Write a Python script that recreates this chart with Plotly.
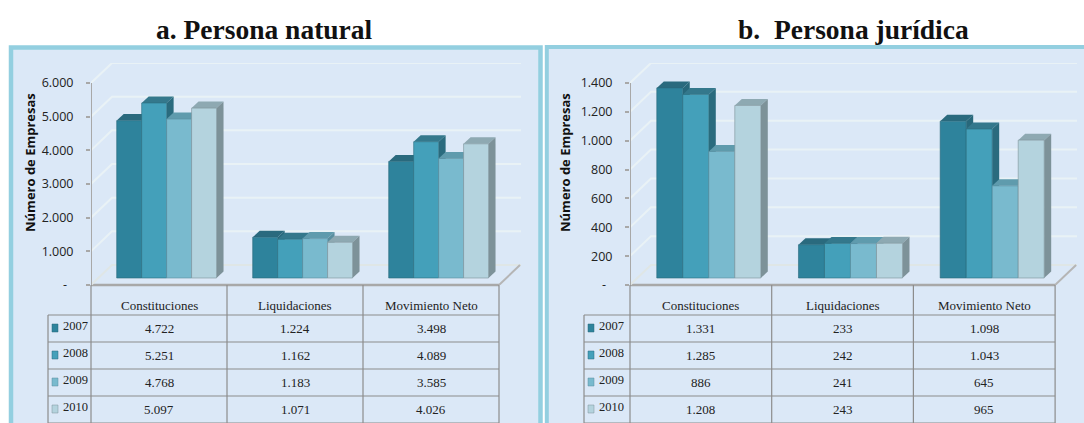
import plotly.graph_objects as go

W, H = 1084, 423
categories = ["Constituciones", "Liquidaciones", "Movimiento Neto"]
years = ["2007", "2008", "2009", "2010"]

natural_2007 = [4722, 1224, 3498]
natural_2008 = [5251, 1162, 4089]
natural_2009 = [4768, 1183, 3585]
natural_2010 = [5097, 1071, 4026]
juridica_2007 = [1331, 233, 1098]
juridica_2008 = [1285, 242, 1043]
juridica_2009 = [886, 241, 645]
juridica_2010 = [1208, 243, 965]

natural_ticks = [0, 1000, 2000, 3000, 4000, 5000, 6000]
juridica_ticks = [0, 200, 400, 600, 800, 1000, 1200, 1400]

front = ["#2e839c", "#44a0ba", "#79bace", "#b4d3de"]
top = ["#2a6a7e", "#34788c", "#5f9bad", "#8ea9b2"]
side = ["#28687b", "#2a6b7e", "#5a8f9f", "#7d9299"]
BORDER = "#93cfe0"
BG = "#dbe8f7"
GRID = "#e9f2f6"
AX = "#a8a8a8"
TBL = "#8c8c8c"
SANS = "Open Sans"
SERIF = "Liberation Serif"
DEPTH_SCALE = 0.99   # bars stand further back than the axis plane

fig = go.Figure()
shapes, annotations = [], []
px = lambda x: x / W
py = lambda y: 1 - y / H


def rect(x0, y0, x1, y1, fill=None, line=None, lw=0):
    shapes.append(dict(type="rect", xref="paper", yref="paper", x0=px(x0), x1=px(x1),
                       y0=py(y1), y1=py(y0), fillcolor=fill or "rgba(0,0,0,0)",
                       line=dict(color=line or "rgba(0,0,0,0)", width=lw), layer="below"))


def seg(x0, y0, x1, y1, color=TBL, lw=1.2):
    shapes.append(dict(type="line", xref="paper", yref="paper", x0=px(x0), x1=px(x1),
                       y0=py(y0), y1=py(y1), line=dict(color=color, width=lw), layer="below"))


def note(x, y, text, size=12, font=SERIF, color="#222222", anchor="center", angle=0, bold=False):
    annotations.append(dict(xref="paper", yref="paper", x=px(x), y=py(y), text=f"<b>{text}</b>" if bold else text,
                            showarrow=False, xanchor=anchor, yanchor="middle", textangle=angle,
                            font=dict(family=font, size=size, color=color)))


def dotted(v):
    return f"{v:,}".replace(",", ".")


def panel(series, ticks, ax_x, cell, legend_x, ids, title_x, ylabel_x, title):
    base_id, poly_id, bar_id = ids
    zero_y, max_y, back_y, dx_wall, dy_wall = 285, 83, 63, 21, 20
    unit = (zero_y - max_y) / ticks[-1]          # px per value, axis plane
    bar_unit = unit * DEPTH_SCALE                # px per value, bar plane
    right_px = ax_x + 3 * cell + dx_wall + 1
    x_end = -0.5 + (right_px - ax_x) / cell
    y_end = (zero_y - back_y) / unit
    xa = dict(domain=[px(ax_x), px(right_px)], range=[-0.5, x_end], visible=False, fixedrange=True)
    ya = dict(domain=[py(zero_y), py(back_y)], range=[0, y_end], fixedrange=True,
              tickvals=ticks, ticktext=["-\u00a0\u00a0" if t == 0 else dotted(t) for t in ticks],
              ticks="outside", ticklen=4, tickcolor=AX, tickwidth=1.5, showgrid=False, zeroline=False,
              showline=False, ticklabelstandoff=10, tickfont=dict(family=SANS, size=12.5, color="#222222"))
    xn, yn = ("x", "y") if base_id == 1 else (f"x{base_id}", f"y{base_id}")
    xp, yp = f"x{poly_id}", f"y{poly_id}"
    xo, yo = f"x{bar_id}", f"y{bar_id}"
    bar_range = [0, (zero_y - back_y) / bar_unit]
    layout_axes = {
        f"xaxis{'' if base_id == 1 else base_id}": dict(xa, anchor=yn),
        f"yaxis{'' if base_id == 1 else base_id}": dict(ya, anchor=xn),
    }
    for aid, xx, yy in ((poly_id, xp, yp), (bar_id, xo, yo)):
        layout_axes[f"xaxis{aid}"] = dict(xa, anchor=yy, overlaying=xn)
        layout_axes[f"yaxis{aid}"] = dict(domain=ya["domain"], range=bar_range, visible=False, fixedrange=True,
                                          anchor=xx, overlaying=yn)
    fig.update_layout(**layout_axes)

    wx = dx_wall / cell
    wy = dy_wall / unit
    # back wall and left wall grid
    for t in ticks:
        col = "#dfe6e6" if t == 0 else GRID
        fig.add_scatter(x=[-0.5, -0.5 + wx, x_end], y=[t, t + wy, t + wy], mode="lines", xaxis=xn, yaxis=yn,
                        line=dict(color=col, width=2), hoverinfo="skip", showlegend=False)
    # floor edge on the right and the axis
    fig.add_scatter(x=[2.5, 2.5 + wx], y=[0, wy], mode="lines", xaxis=xn, yaxis=yn,
                    line=dict(color="#b5b5b5", width=2), hoverinfo="skip", showlegend=False)
    fig.add_scatter(x=[-0.5, -0.5], y=[0, ticks[-1]], mode="lines", xaxis=xn, yaxis=yn,
                    line=dict(color=AX, width=2), hoverinfo="skip", showlegend=False)

    off0, bw = -0.311, 0.1835
    base = 7 / bar_unit
    ddx, ddy = 7 / cell, 6.5 / bar_unit
    for i, vals in enumerate(series):
        for c, v in enumerate(vals):
            l = c + off0 + i * bw
            r = l + bw
            t = base + v
            fig.add_scatter(x=[l, r, r + ddx, l + ddx, l], y=[t, t, t + ddy, t + ddy, t], mode="lines",
                            fill="toself", fillcolor=top[i], line=dict(width=0, color=top[i]),
                            xaxis=xp, yaxis=yp, hoverinfo="skip", showlegend=False)
            fig.add_scatter(x=[r, r + ddx, r + ddx, r, r], y=[base, base + ddy, t + ddy, t, base], mode="lines",
                            fill="toself", fillcolor=side[i], line=dict(width=0, color=side[i]),
                            xaxis=xp, yaxis=yp, hoverinfo="skip", showlegend=False)
    for i, vals in enumerate(series):
        fig.add_bar(x=[0, 1, 2], y=vals, base=base, width=bw, offset=[off0 + i * bw] * 3, name=years[i],
                    marker=dict(color=front[i], line=dict(color=side[i], width=0.6)),
                    xaxis=xo, yaxis=yo, showlegend=False)

    # table
    rows = [315, 342, 369, 396, 423]
    seg(ax_x, 285, ax_x + 3 * cell, 285, AX, 2.5)
    for k in range(4):
        seg(ax_x + k * cell, 285, ax_x + k * cell, 423)
    seg(legend_x, 315, legend_x, 423)
    for y in rows:
        seg(legend_x, y, ax_x + 3 * cell, y)
    for c, name in enumerate(categories):
        note(ax_x + (c + .5) * cell, 305, name, 13)
    for i, vals in enumerate(series):
        yc = (rows[i] + rows[i + 1]) / 2 - 1
        rect(legend_x + 4, yc - 3.5, legend_x + 10, yc + 4.5, front[i], side[i], 0.5)
        note(legend_x + 12.5, yc - 2, years[i], 12.5, anchor="left")
        for c, v in enumerate(vals):
            note(ax_x + (c + .5) * cell, yc + 0.5, dotted(v), 13)
    note(ylabel_x, 163, "Número de Empresas", 13, SANS, "#111111", angle=-90, bold=True)
    note(title_x, 30, title, 27.5, SERIF, "#111111", bold=True)


rect(11, 47.5, 540.5, 445, BG, BORDER, 4.5)
rect(546.8, 47, 1100, 445, BG, BORDER, 4)

panel([natural_2007, natural_2008, natural_2009, natural_2010], natural_ticks,
      91, 136, 48, (1, 2, 5), 264, 30, "a. Persona natural")
panel([juridica_2007, juridica_2008, juridica_2009, juridica_2010], juridica_ticks,
      630, 141.7, 584, (3, 4, 6), 853, 565, "b.\u00a0 Persona jurídica")

fig.update_layout(width=W, height=H, margin=dict(l=0, r=0, t=0, b=0, autoexpand=False), paper_bgcolor="white",
                  plot_bgcolor="rgba(0,0,0,0)", barmode="overlay", shapes=shapes, annotations=annotations)
fig.write_html("out.html", post_script="document.body.style.margin='0';", config={"displayModeBar": False})
